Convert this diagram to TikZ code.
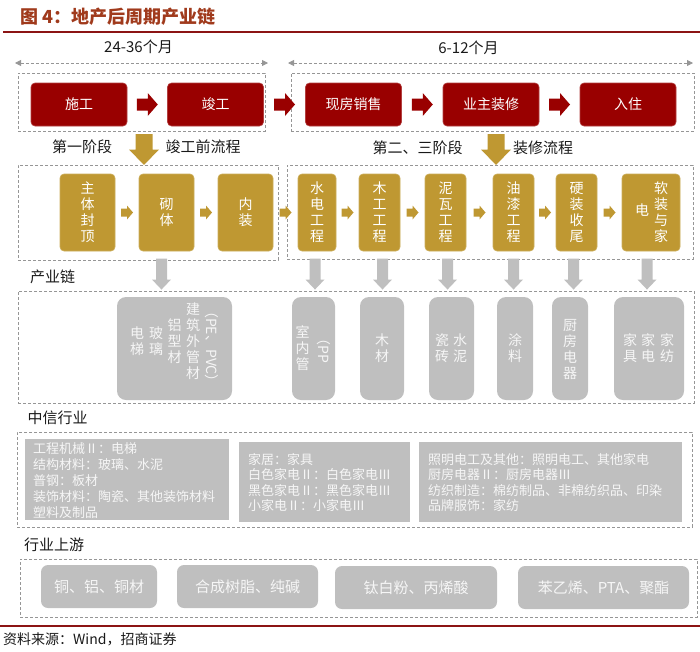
\documentclass[tikz,border=0pt]{standalone}
\usepackage{fontspec}
\setmainfont{Noto Sans CJK SC}
\usetikzlibrary{calc,arrows.meta}
\definecolor{titlec}{RGB}{160,58,28}
\definecolor{linec}{RGB}{140,20,20}
\definecolor{redc}{RGB}{153,0,0}
\definecolor{goldc}{RGB}{191,152,50}
\definecolor{grayc}{RGB}{191,191,191}
\definecolor{dashc}{RGB}{150,150,150}
\definecolor{txtc}{RGB}{25,25,25}
\definecolor{lightc}{RGB}{246,246,246}
\tikzset{
 redarr/.pic={\fill[redc] (-10.5,-6) -- (0.5,-6) -- (0.5,-11.5) -- (10.5,0) -- (0.5,11.5) -- (0.5,6) -- (-10.5,6) -- cycle;},
 goldarr/.pic={\fill[goldc] (-6,-4) -- (0,-4) -- (0,-7) -- (6,0) -- (0,7) -- (0,4) -- (-6,4) -- cycle;},
 golddown/.pic={\fill[goldc] (-8.5,-15.5) -- (8.5,-15.5) -- (8.5,0) -- (15,0) -- (0,15.5) -- (-15,0) -- (-8.5,0) -- cycle;},
 graydown/.pic={\fill[grayc] (-5.5,-15.5) -- (5.5,-15.5) -- (5.5,5.5) -- (9.5,5.5) -- (0,15.5) -- (-9.5,5.5) -- (-5.5,5.5) -- cycle;}
}
\begin{document}
\begin{tikzpicture}[x=1pt,y=-1pt,
 dashbox/.style={draw=dashc, dash pattern=on 3pt off 2pt, line width=0.8pt, inner sep=0pt},
 redbox/.style={fill=redc, draw=redc!75!white, line width=0.6pt, rounded corners=4pt, minimum width=96pt, minimum height=43pt, inner sep=0pt, text=white, font=\fontsize{14}{16}\selectfont},
 goldbox/.style={fill=goldc, draw=goldc!80!white, line width=0.6pt, rounded corners=4pt, minimum height=77pt, inner sep=0pt, text=white, align=center, font=\fontsize{14}{16}\selectfont},
 goldtxt/.style={text=white, align=center, inner sep=0pt, font=\fontsize{14}{16}\selectfont},
 graybox/.style={fill=grayc, rounded corners=9pt, minimum height=103pt, inner sep=0pt},
 vcol/.style={text=lightc, align=center, inner sep=0pt, font=\fontsize{14}{16}\selectfont},
 rectbox/.style={fill=grayc, inner sep=0pt},
 rtext/.style={text=lightc, align=left, inner sep=0pt, anchor=west, font=\fontsize{13}{15.5}\selectfont},
 upbox/.style={fill=grayc, rounded corners=7pt, minimum height=43pt, inner sep=0pt, text=lightc, font=\fontsize{15}{17}\selectfont},
 lbl/.style={text=txtc, inner sep=0pt, font=\fontsize{15}{17}\selectfont},
 darrow/.style={draw=dashc, dash pattern=on 3pt off 2pt, line width=0.8pt, {Triangle[length=6pt,width=6pt]}-{Triangle[length=6pt,width=6pt]}}
]
\useasboundingbox (0,0) rectangle (700,651);
% title
\node[anchor=west, text=titlec, inner sep=0pt, font=\fontsize{18}{20}\selectfont\bfseries] (title) at (20,17) {图 4：地产后周期产业链};
\coordinate (tl1) at (3,32); \coordinate (tl2) at (700,32);
\draw[linec, line width=1.5pt] (tl1) -- (tl2);
% time spans
\node[lbl] (t1) at (138.5,47) {24-36个月};
\node[lbl] (t2) at (468.5,48) {6-12个月};
\coordinate (ta1) at (15,63); \coordinate (ta2) at (268,63);
\coordinate (tb1) at (288,63); \coordinate (tb2) at (693,63);
\draw[darrow] (ta1) -- (ta2);
\draw[darrow] (tb1) -- (tb2);
% stage boxes
\node[dashbox, minimum width=247pt, minimum height=58pt] (s1) at (141.5,102) {};
\node[dashbox, minimum width=403pt, minimum height=58pt] (s2) at (492.5,102) {};
\node[redbox] (shigong) at (79,104.5) {施工};
\node[redbox] (jungong) at (215.5,104.5) {竣工};
\node[redbox] (xianfang) at (353.5,104.5) {现房销售};
\node[redbox] (yezhu) at (491,104.5) {业主装修};
\node[redbox] (ruzhu) at (628,104.5) {入住};
\path ($(shigong.east)!0.5!(jungong.west)$) pic {redarr};
\path ($(jungong.east)!0.5!(xianfang.west)$) pic {redarr};
\path ($(xianfang.east)!0.5!(yezhu.west)$) pic {redarr};
\path ($(yezhu.east)!0.5!(ruzhu.west)$) pic {redarr};
% stage labels
\node[lbl] (l1) at (82,147) {第一阶段};
\node[lbl] (l2) at (203,147) {竣工前流程};
\node[lbl] (l3) at (417.5,148) {第二、三阶段};
\node[lbl] (l4) at (543,148) {装修流程};
\path (144,149.5) pic {golddown};
\path (496,149.5) pic {golddown};
% process boxes
\node[dashbox, minimum width=260pt, minimum height=95pt] (m1) at (148,212.5) {};
\node[dashbox, minimum width=406pt, minimum height=94pt] (m2) at (490,212) {};
\node[goldbox, minimum width=55pt] (zhuti) at (87.5,212.5) {主\\体\\封\\顶};
\node[goldbox, minimum width=55pt] (qiti) at (166.5,212.5) {砌\\体};
\node[goldbox, minimum width=55pt] (neizhuang) at (245.5,212.5) {内\\装};
\node[goldbox, minimum width=38pt] (shuidian) at (317,212.5) {水\\电\\工\\程};
\node[goldbox, minimum width=41pt] (mugong) at (379.5,212.5) {木\\工\\工\\程};
\node[goldbox, minimum width=41pt] (niwa) at (445.5,212.5) {泥\\瓦\\工\\程};
\node[goldbox, minimum width=41pt] (youqi) at (513.5,212.5) {油\\漆\\工\\程};
\node[goldbox, minimum width=41pt] (yingzhuang) at (576.5,212.5) {硬\\装\\收\\尾};
\node[goldbox, minimum width=58pt] (ruanzhuang) at (651,212.5) {};
\node[goldtxt] (rz1) at ([xshift=10pt]ruanzhuang.center) {软\\装\\与\\家};
\node[goldtxt] (rz2) at ([xshift=-9pt,yshift=2pt]ruanzhuang.center) {电};
\path ($(zhuti.east)!0.5!(qiti.west)$) pic {goldarr};
\path ($(qiti.east)!0.5!(neizhuang.west)$) pic {goldarr};
\path ($(neizhuang.east)!0.5!(shuidian.west)$) pic {goldarr};
\path ($(shuidian.east)!0.5!(mugong.west)$) pic {goldarr};
\path ($(mugong.east)!0.5!(niwa.west)$) pic {goldarr};
\path ($(niwa.east)!0.5!(youqi.west)$) pic {goldarr};
\path ($(youqi.east)!0.5!(yingzhuang.west)$) pic {goldarr};
\path ($(yingzhuang.east)!0.5!(ruanzhuang.west)$) pic {goldarr};
% industry chain
\node[lbl] (cyl) at (52.5,277) {产业链};
\node[dashbox, minimum width=676pt, minimum height=112pt] (chain) at (356,347) {};
\node[graybox, minimum width=115pt] (g1) at (174.5,348.5) {};
\node[graybox, minimum width=43pt] (g2) at (313.5,348.5) {};
\node[graybox, minimum width=44pt] (g3) at (382,348.5) {};
\node[graybox, minimum width=45pt] (g4) at (451.5,348.5) {};
\node[graybox, minimum width=36pt] (g5) at (515,348.5) {};
\node[graybox, minimum width=36pt] (g6) at (570,348.5) {};
\node[graybox, minimum width=70pt] (g7) at (649,348.5) {};
% gray arrows
\coordinate (a1t) at ([xshift=-5pt]qiti.south); \coordinate (a1b) at (a1t |- g1.north);
\coordinate (a2t) at ([xshift=-2pt]shuidian.south); \coordinate (a2b) at (a2t |- g2.north);
\coordinate (a3t) at ([xshift=3pt]mugong.south); \coordinate (a3b) at (a3t |- g3.north);
\coordinate (a4t) at ([xshift=2pt]niwa.south); \coordinate (a4b) at (a4t |- g4.north);
\coordinate (a5t) at (youqi.south); \coordinate (a5b) at (a5t |- g5.north);
\coordinate (a6t) at ([xshift=-3pt]yingzhuang.south); \coordinate (a6b) at (a6t |- g6.north);
\coordinate (a7t) at ([xshift=-4pt]ruanzhuang.south); \coordinate (a7b) at (a7t |- g7.north);
\foreach \i in {1,...,7} { \path ($(a\i t)!0.5!(a\i b)$) pic {graydown}; }
% gray box texts
\node[vcol] (g1a) at ([xshift=-37.5pt,yshift=7pt]g1.center) {电\\梯};
\node[vcol] (g1b) at ([xshift=-18.5pt,yshift=7pt]g1.center) {玻\\璃};
\node[vcol] (g1c) at ([yshift=7pt]g1.center) {铝\\型\\材};
\node[vcol] (g1d) at ([xshift=18.5pt,yshift=7pt]g1.center) {建\\筑\\外\\管\\材};
\node[vcol, rotate=-90] (g1e) at ([xshift=37.5pt,yshift=2pt]g1.center) {（PE、PVC）};
\node[vcol] (g2a) at ([xshift=-11pt]g2.center) {室\\内\\管};
\node[vcol, rotate=-90] (g2b) at ([xshift=10pt,yshift=1pt]g2.center) {（PP};
\node[vcol] (g3a) at (g3.center) {木\\材};
\node[vcol] (g4a) at ([xshift=-9.5pt]g4.center) {瓷\\砖};
\node[vcol] (g4b) at ([xshift=8.5pt]g4.center) {水\\泥};
\node[vcol] (g5a) at (g5.center) {涂\\料};
\node[vcol] (g6a) at ([yshift=-1pt]g6.center) {厨\\房\\电\\器};
\node[vcol] (g7a) at ([xshift=-19pt]g7.center) {家\\具};
\node[vcol] (g7b) at ([xshift=-1pt]g7.center) {家\\电};
\node[vcol] (g7c) at ([xshift=18pt]g7.center) {家\\纺};
% CITIC industries
\node[lbl] (zxhy) at (57.5,418) {中信行业};
\node[dashbox, minimum width=675pt, minimum height=95pt] (zx) at (354.5,479.5) {};
\node[rectbox, minimum width=204pt, minimum height=81pt] (r1) at (127,479.5) {};
\node[rectbox, minimum width=171pt, minimum height=80pt] (r2) at (324.5,482) {};
\node[rectbox, minimum width=263pt, minimum height=80pt] (r3) at (550.5,482) {};
\node[rtext, font=\fontsize{13}{16}\selectfont] (r1t) at (33,481) {工程机械Ⅱ：电梯\\结构材料：玻璃、水泥\\普钢：板材\\装饰材料：陶瓷、其他装饰材料\\塑料及制品};
\node[rtext] (r2t) at (248,482.5) {家居：家具\\白色家电Ⅱ：白色家电Ⅲ\\黑色家电Ⅱ：黑色家电Ⅲ\\小家电Ⅱ：小家电Ⅲ};
\node[rtext] (r3t) at (428,482.5) {照明电工及其他：照明电工、其他家电\\厨房电器Ⅱ：厨房电器Ⅲ\\纺织制造：棉纺制品、非棉纺织品、印染\\品牌服饰：家纺};
% upstream
\node[lbl] (hysy) at (54,545) {行业上游};
\node[dashbox, minimum width=677pt, minimum height=58pt] (upb) at (358.5,588) {};
\node[upbox, minimum width=116pt] (u1) at (99,586.5) {铜、铝、铜材};
\node[upbox, minimum width=141pt] (u2) at (247.5,586.5) {合成树脂、纯碱};
\node[upbox, minimum width=162pt] (u3) at (416,587.5) {钛白粉、丙烯酸};
\node[upbox, minimum width=171pt] (u4) at (603.5,587.5) {苯乙烯、PTA、聚酯};
% footer
\coordinate (bl1) at (0,626); \coordinate (bl2) at (700,626);
\draw[linec, line width=1.5pt] (bl1) -- (bl2);
\node[anchor=west, text=txtc, inner sep=0pt, font=\fontsize{14}{16}\selectfont] (src) at (3,639) {资料来源：Wind，招商证券};
\end{tikzpicture}
\end{document}
